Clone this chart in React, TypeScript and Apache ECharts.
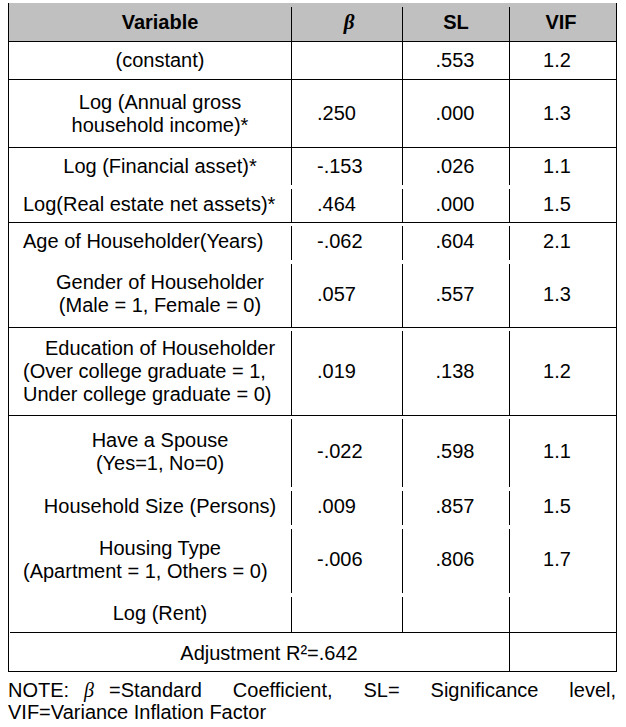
import React, { useEffect, useRef } from "react";
import * as echarts from "echarts";

// ---------- data ----------
const headers = ["Variable", "β", "SL", "VIF"];
const variableLabels: string[][] = [
  ["(constant)"],
  ["Log (Annual gross", "household income)*"],
  ["Log (Financial asset)*"],
  ["Log(Real estate net assets)*"],
  ["Age of Householder(Years)"],
  ["Gender of Householder", "(Male = 1, Female = 0)"],
  ["Education of Householder", "(Over college graduate = 1,", "Under college graduate = 0)"],
  ["Have a Spouse", "(Yes=1, No=0)"],
  ["Household Size (Persons)"],
  ["Housing Type", "(Apartment = 1, Others = 0)"],
  ["Log (Rent)"],
];
const betaValues = ["", ".250", "-.153", ".464", "-.062", ".057", ".019", "-.022", ".009", "-.006", ""];
const slValues = [".553", ".000", ".026", ".000", ".604", ".557", ".138", ".598", ".857", ".806", ""];
const vifValues = ["1.2", "1.3", "1.1", "1.5", "2.1", "1.3", "1.2", "1.1", "1.5", "1.7", ""];
const groupIds = [0, 1, 2, 2, 3, 3, 4, 5, 5, 5, 5];
const adjustedR2Label = "Adjustment R²=.642";
const noteWords = ["NOTE:", "β", "=Standard", "Coefficient,", "SL=", "Significance", "level,"];
const noteLine2 = "VIF=Variance Inflation Factor";

// ---------- layout ----------
const W = 626;
const H = 727;
const LEFT = 8;
const RIGHT = 616;
const colX = [291, 402, 509];
const headerTop = 3;
const headerLineTop = 7;
const rowBounds = [41, 79, 147, 185, 222, 260, 327, 415, 487, 525, 593, 632];
const tableBottom = 671;
const LH = 23;
const FS = 20;
const SANS = "'Liberation Sans', Arial, Helvetica, sans-serif";
const SERIF = "'Liberation Serif', 'Times New Roman', serif";
// gaps around the β symbol in the note line are narrower than the justified ones
const noteBetaGap = 15;

let measureCtx: CanvasRenderingContext2D | null = null;
function measure(text: string, font: string): number {
  if (!measureCtx) measureCtx = document.createElement("canvas").getContext("2d");
  if (!measureCtx) return text.length * 10;
  measureCtx.font = font;
  return measureCtx.measureText(text).width;
}

function txt(text: string, x: number, y: number, align: string, font: string) {
  return {
    type: "text",
    x,
    y,
    silent: true,
    style: {
      text,
      font,
      fill: "#000",
      align,
      verticalAlign: "middle",
      textAlign: align,
      textVerticalAlign: "middle",
    },
  };
}

function hLine(x1: number, x2: number, y: number) {
  return {
    type: "line",
    silent: true,
    shape: { x1, y1: y + 0.5, x2, y2: y + 0.5 },
    style: { stroke: "#000", lineWidth: 1 },
  };
}
function vLine(x: number, y1: number, y2: number) {
  return {
    type: "line",
    silent: true,
    shape: { x1: x + 0.5, y1, x2: x + 0.5, y2 },
    style: { stroke: "#000", lineWidth: 1 },
  };
}

function buildElements() {
  const els: any[] = [];
  const sans = `normal normal ${FS}px ${SANS}`;
  const sansBold = `normal bold ${FS}px ${SANS}`;

  // header background
  els.push({
    type: "rect",
    silent: true,
    shape: { x: LEFT, y: headerTop, width: RIGHT - LEFT, height: rowBounds[0] - headerTop },
    style: { fill: "#c0c0c0" },
  });

  // outer borders
  els.push(vLine(LEFT, headerTop, tableBottom + 1));
  els.push(vLine(RIGHT, headerTop, tableBottom + 1));
  // header column lines
  colX.forEach((x) => els.push(vLine(x, headerLineTop, rowBounds[0])));
  // header bottom
  els.push(hLine(LEFT, RIGHT + 1, rowBounds[0]));

  // header texts
  const headerY = 22;
  els.push(txt(headers[0], 160, headerY, "center", sansBold));
  els.push(txt(headers[1], 349, headerY, "center", `italic bold ${FS + 1}px ${SERIF}`));
  els.push(txt(headers[2], 456, headerY, "center", sansBold));
  els.push(txt(headers[3], 561, headerY, "center", sansBold));

  // body rows
  variableLabels.forEach((lines, i) => {
    const top = rowBounds[i];
    const bottom = rowBounds[i + 1];
    const gap = i >= 3 ? 4 : 0;
    if (i > 0 && groupIds[i] !== groupIds[i - 1]) {
      els.push(hLine(LEFT, RIGHT + 1, top));
    }
    colX.forEach((x) => els.push(vLine(x, top + gap, bottom)));
    const cy = (top + bottom) / 2;
    lines.forEach((line, j) => {
      const y = cy + (j - (lines.length - 1) / 2) * LH;
      const w = measure(line, sans);
      if (w > 238) els.push(txt(line, 23, y, "left", sans));
      else els.push(txt(line, 160, y, "center", sans));
    });
    if (betaValues[i]) els.push(txt(betaValues[i], 317, cy, "left", sans));
    if (slValues[i]) els.push(txt(slValues[i], 455, cy, "center", sans));
    if (vifValues[i]) els.push(txt(vifValues[i], 557, cy, "center", sans));
  });

  // last row (adjusted R²)
  const lastTop = rowBounds[rowBounds.length - 1];
  els.push(hLine(LEFT + 2, RIGHT + 1, lastTop));
  els.push(vLine(colX[2], lastTop, tableBottom));
  els.push(hLine(LEFT, RIGHT + 1, tableBottom));
  els.push(txt(adjustedR2Label, 269, (lastTop + tableBottom) / 2 + 1, "center", sans));

  // note line 1, justified (narrower gaps around β)
  const noteFonts = noteWords.map((w) => (w === "β" ? `italic normal ${FS}px ${SERIF}` : sans));
  const widths = noteWords.map((w, k) => measure(w, noteFonts[k]));
  const total = widths.reduce((a, b) => a + b, 0);
  const otherGaps = noteWords.length - 3;
  const space = (RIGHT - LEFT - total - 2 * noteBetaGap) / otherGaps;
  let x = LEFT;
  noteWords.forEach((w, k) => {
    els.push(txt(w, x, 690, "left", noteFonts[k]));
    x += widths[k] + (k < 2 ? noteBetaGap : space);
  });
  els.push(txt(noteLine2, LEFT, 712, "left", sans));

  return els;
}

export default function App() {
  const ref = useRef<HTMLDivElement>(null);
  useEffect(() => {
    document.body.style.margin = "0";
    if (!ref.current) return;
    const chart = echarts.init(ref.current, undefined, { renderer: "svg" });
    chart.setOption({
      animation: false,
      backgroundColor: "#ffffff",
      graphic: { elements: buildElements() },
    });
    return () => chart.dispose();
  }, []);
  return <div ref={ref} style={{ width: W, height: H }} />;
}
